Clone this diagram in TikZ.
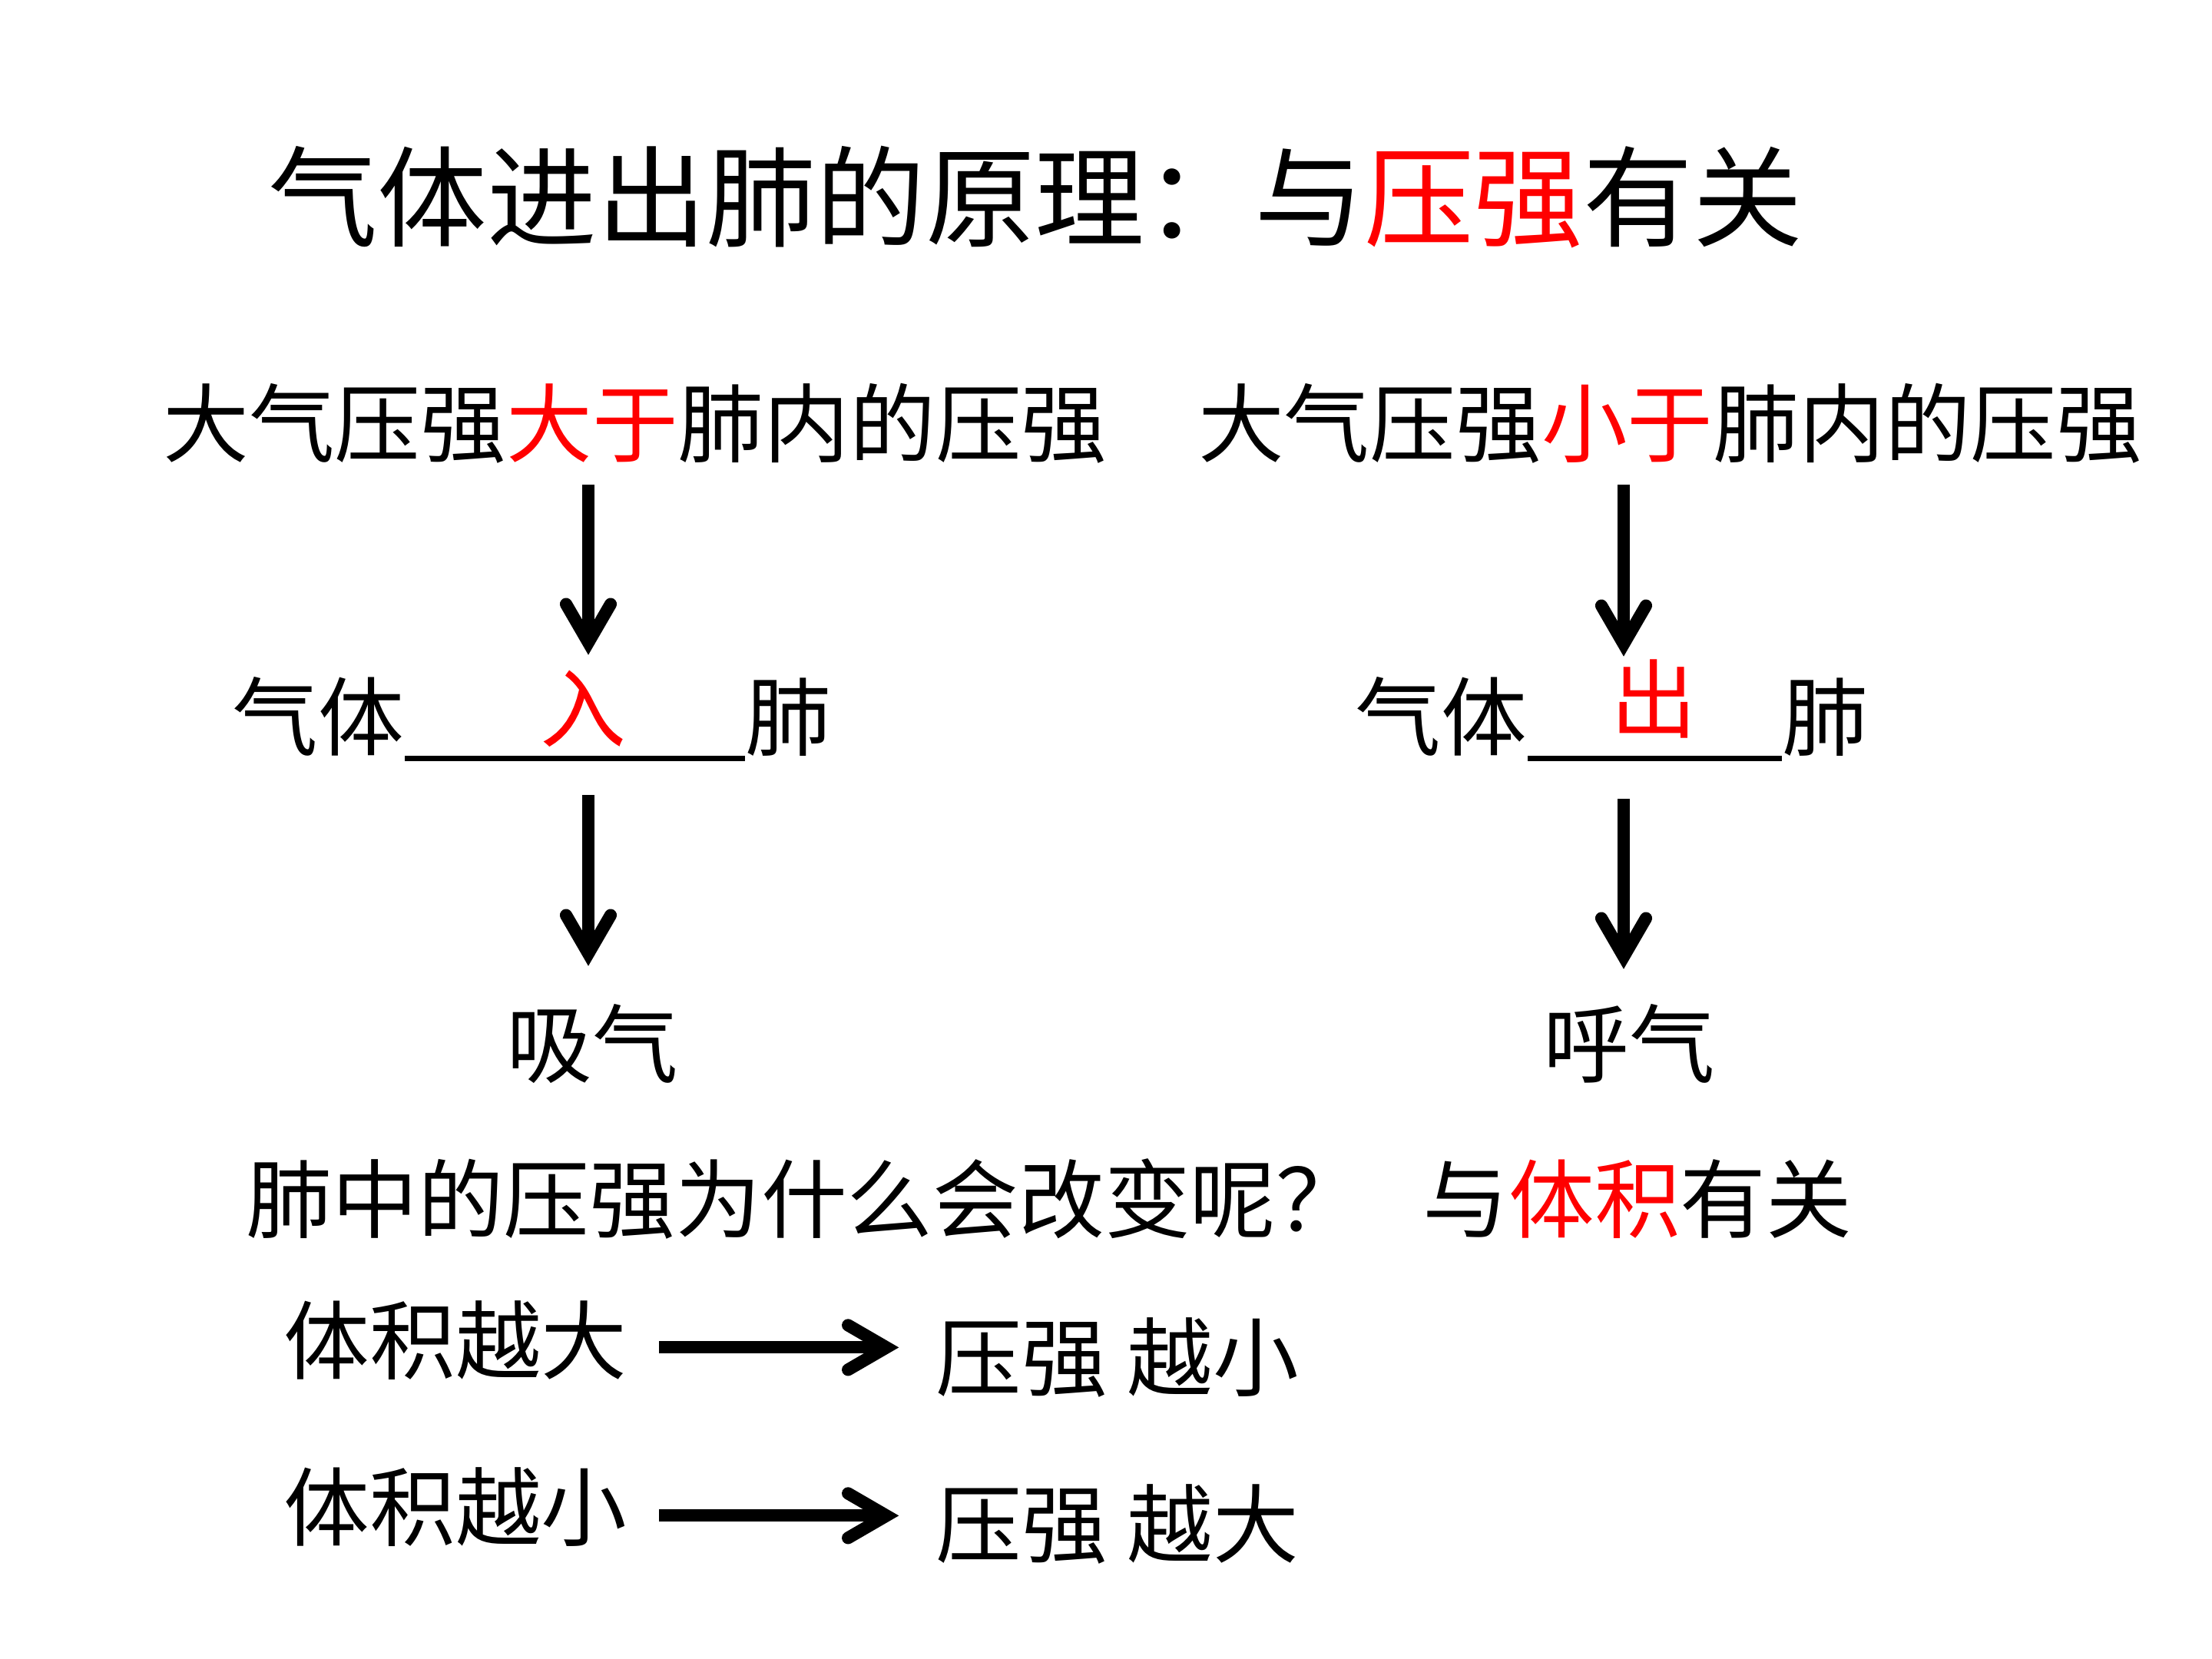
\documentclass[tikz,border=0pt]{standalone}
\usepackage{fontspec}
\newfontfamily\cjk{Noto Sans CJK SC}
\usetikzlibrary{arrows.meta, positioning, calc}
\definecolor{cKey}{HTML}{FF0000}
\tikzset{
  txt/.style={font=\cjk\fontsize{31.8pt}{38pt}\selectfont, inner sep=0pt,
    text height=0.986cm, text depth=0.134cm},
  titletxt/.style={txt, font=\cjk\fontsize{40.6pt}{48pt}\selectfont},
  keytxt/.style={txt, text=cKey},
  flow/.style={-{Straight Barb[length=5mm, width=5.8mm, line cap=round, line join=miter]},
    line width=4.6pt, draw=black},
  blank/.style={line width=2pt, draw=black},
}

\begin{document}
\begin{tikzpicture}

  \fill[white] (0,0) rectangle (28.8,21.6);
  \useasboundingbox (0,0) rectangle (28.8,21.6);

  % ----------------------------------------------------------------
  % Title
  % ----------------------------------------------------------------
  \node[titletxt, anchor=base] (title) at (13.48,18.49)
    {气体进出肺的原理：与\textcolor{cKey}{压强}有关};

  % ----------------------------------------------------------------
  % Row 1: outside pressure vs. lung pressure
  % ----------------------------------------------------------------
  \node[txt, anchor=base] (lowL) at (8.27,15.66)
    {大气压强\textcolor{cKey}{大于}肺内的压强};
  \node[txt, right=1.17cm of lowL] (highR)
    {大气压强\textcolor{cKey}{小于}肺内的压强};

  % arrow columns
  \coordinate (axL) at (7.66,0);
  \coordinate (axR) at (21.14,0);

  % ----------------------------------------------------------------
  % Row 2: gas in / out of the lung (fill-in blanks)
  % ----------------------------------------------------------------
  \node[txt, anchor=base east] (gasL) at (5.27,11.84) {气体};
  \node[txt, anchor=base west] (lungL) at (9.70,11.84) {肺};
  \node[keytxt, anchor=base] (inL) at (7.59,11.95) {入};

  \node[txt, anchor=base east] (gasR) at (19.89,11.84) {气体};
  \node[txt, anchor=base west] (lungR) at (23.20,11.84) {肺};
  \node[keytxt, anchor=base] (outR) at (21.53,12.07) {出};

  \draw[blank] ([yshift=-1.2mm]gasL.base east) -- ([yshift=-1.2mm]lungL.base west);
  \draw[blank] ([yshift=-1.2mm]gasR.base east) -- ([yshift=-1.2mm]lungR.base west);

  % ----------------------------------------------------------------
  % Row 3: breathing in / out
  % ----------------------------------------------------------------
  \node[txt, anchor=base] (inhale) at (7.71,7.58) {吸气};
  \node[txt, anchor=base] (exhale) at (21.21,7.58) {呼气};

  % ----------------------------------------------------------------
  % Why does the lung pressure change?
  % ----------------------------------------------------------------
  \node[txt, anchor=base] (why) at (10.47,5.56) {肺中的压强为什么会改变呢？};
  \node[txt, anchor=base] (volume) at (21.32,5.56)
    {与\textcolor{cKey}{体积}有关};

  \node[txt, anchor=base] (bigV) at (5.93,3.72) {体积越大};
  \node[txt, anchor=base] (smallP) at (14.55,3.50) {压强 越小};
  \node[txt, anchor=base] (smallV) at (5.93,1.55) {体积越小};
  \node[txt, anchor=base] (bigP) at (14.55,1.33) {压强 越大};

  % ----------------------------------------------------------------
  % Arrows
  % ----------------------------------------------------------------
  \draw[flow, shorten <=2.3mm, shorten >=2.4mm] (lowL.south -| axL) -- (gasL.north -| axL);
  \draw[flow, shorten <=4.5mm, shorten >=4.5mm] (gasL.south -| axL) -- (inhale.north -| axL);
  \draw[flow, shorten <=2.3mm, shorten >=2.2mm] (highR.south -| axR) -- (gasR.north -| axR);
  \draw[flow, shorten <=5mm, shorten >=4.1mm] (gasR.south -| axR) -- (exhale.north -| axR);

  \draw[flow, shorten <=4.1mm, shorten >=4.8mm]
    ([yshift=-0.9mm]bigV.east) -- ([yshift=-0.9mm]bigV.east -| smallP.west);
  \draw[flow, shorten <=4.1mm, shorten >=4.8mm]
    ([yshift=-1.1mm]smallV.east) -- ([yshift=-1.1mm]smallV.east -| bigP.west);

\end{tikzpicture}
\end{document}
